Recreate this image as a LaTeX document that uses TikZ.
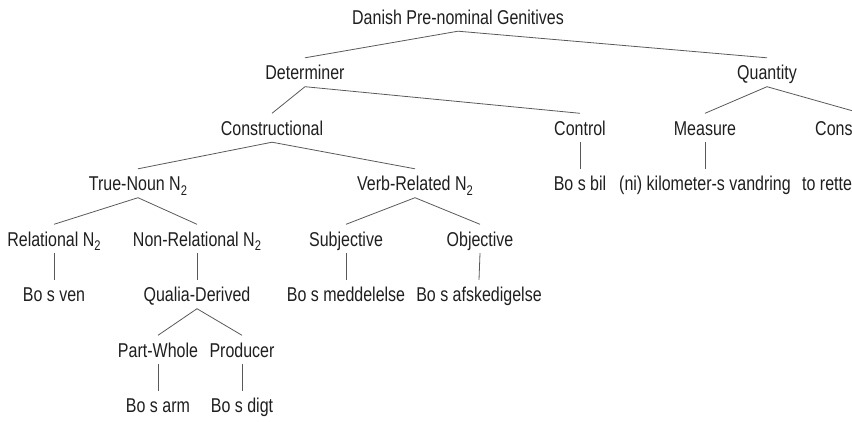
\documentclass[tikz,border=0pt]{standalone}
\usepackage{fontspec}
\setmainfont{Liberation Sans}[FakeStretch=0.8]
\newcommand{\sbtwo}{\raisebox{-4.5pt}{\fontsize{14}{14}\selectfont 2}}
\begin{document}
\begin{tikzpicture}[x=1pt,y=-1pt,
  lbl/.style={anchor=base,inner xsep=1pt,inner ysep=7pt,text height=14.5pt,text depth=0pt,
    font=\fontsize{20}{24}\selectfont,text=black!88},
  edge/.style={draw=black!65,line width=0.8pt}]
\useasboundingbox (0,0) rectangle (852,421);
\clip (0,0) rectangle (852,421);
% row baselines
\def\ra{24}\def\rb{79.5}\def\rc{135}\def\rd{190.5}\def\re{246}\def\rf{301.5}\def\rg{357}\def\rh{412.5}
\node[lbl] (root) at (458,\ra) {Danish Pre-nominal Genitives};
\node[lbl] (det) at (305,\rb) {Determiner};
\node[lbl] (quant) at (767,\rb) {Quantity};
\node[lbl] (cons) at (272,\rc) {Constructional};
\node[lbl] (ctrl) at (580,\rc) {Control};
\node[lbl] (meas) at (705,\rc) {Measure};
\node[lbl,anchor=base west] (consx) at (814,\rc) {Cons};
\coordinate (consxtop) at (862,113.5);
\node[lbl] (bobil) at (580,\rd) {Bo s bil};
\node[lbl] (km) at (705,\rd) {(ni) kilometer-s vandring};
\node[lbl,anchor=base west] (rette) at (801,\rd) {to rette};
\node[lbl] (tn) at (138,\rd) {True-Noun N\sbtwo};
\node[lbl] (vr) at (415,\rd) {Verb-Related N\sbtwo};
\node[lbl] (rel) at (54,\re) {Relational N\sbtwo};
\node[lbl] (nrel) at (197,\re) {Non-Relational N\sbtwo};
\node[lbl] (subj) at (346,\re) {Subjective};
\node[lbl] (obj) at (480,\re) {Objective};
\node[lbl] (ven) at (54,\rf) {Bo s ven};
\node[lbl] (qual) at (197,\rf) {Qualia-Derived};
\node[lbl] (medd) at (346,\rf) {Bo s meddelelse};
\node[lbl] (afsk) at (479,\rf) {Bo s afskedigelse};
\node[lbl] (pw) at (158,\rg) {Part-Whole};
\node[lbl] (prod) at (242,\rg) {Producer};
\node[lbl] (arm) at (158,\rh) {Bo s arm};
\node[lbl] (digt) at (242,\rh) {Bo s digt};
% edges
\path[edge] (root.south) -- (det.north);
\path[edge] (root.south) -- (quant.north);
\path[edge] (det.south) -- (cons.north);
\path[edge] (det.south) -- (ctrl.north);
\path[edge] (quant.south) -- (meas.north);
\path[edge] (quant.south) -- (consxtop);
\path[edge] (ctrl.south) -- (bobil.north);
\path[edge] (meas.south) -- (km.north);
\path[edge] (cons.south) -- (tn.north);
\path[edge] (cons.south) -- (vr.north);
\path[edge] (tn.south) -- (rel.north);
\path[edge] (tn.south) -- (nrel.north);
\path[edge] (vr.south) -- (subj.north);
\path[edge] (vr.south) -- (obj.north);
\path[edge] (rel.south) -- (ven.north);
\path[edge] (nrel.south) -- (qual.north);
\path[edge] (subj.south) -- (medd.north);
\path[edge] (obj.south) -- (afsk.north);
\path[edge] (qual.south) -- (pw.north);
\path[edge] (qual.south) -- (prod.north);
\path[edge] (pw.south) -- (arm.north);
\path[edge] (prod.south) -- (digt.north);
\end{tikzpicture}
\end{document}
